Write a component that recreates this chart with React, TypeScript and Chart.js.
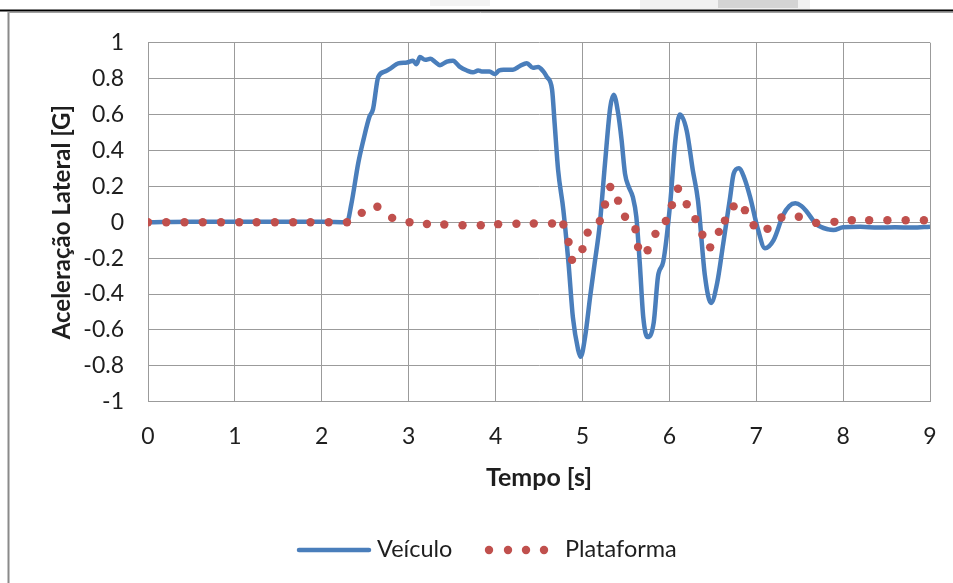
import React, { useEffect, useRef } from 'react';
import { Chart, registerables } from 'chart.js';

Chart.register(...registerables);

// ---- data ----
const vehicleTime = [
  0, 0.5, 1.0, 1.5, 2.0, 2.29, 2.34, 2.42, 2.48, 2.55, 2.59, 2.65, 2.73, 2.8, 2.88, 2.98, 3.05, 3.09, 3.13, 3.19,
  3.25, 3.3, 3.36, 3.44, 3.51, 3.59, 3.67, 3.74, 3.8, 3.84, 3.93, 3.99, 4.04, 4.09, 4.2, 4.28, 4.36, 4.43, 4.49,
  4.55, 4.59, 4.65, 4.68, 4.72, 4.78, 4.84, 4.89, 4.95, 4.98, 5.03, 5.09, 5.14, 5.2, 5.26, 5.32, 5.36, 5.41, 5.45,
  5.49, 5.53, 5.58, 5.62, 5.66, 5.7, 5.75, 5.82, 5.87, 5.93, 6.01, 6.07, 6.12, 6.2, 6.27, 6.33, 6.41, 6.48, 6.55,
  6.62, 6.7, 6.74, 6.8, 6.86, 6.93, 7.02, 7.1, 7.2, 7.31, 7.38, 7.45, 7.52, 7.58, 7.69, 7.83, 7.89, 8.0, 8.2, 8.4,
  8.6, 8.8, 9.0,
];
const vehicleAccel = [
  0, 0.003, 0.003, 0.002, 0.003, 0.0, 0.1, 0.33, 0.46, 0.59, 0.63, 0.81, 0.84, 0.86, 0.885, 0.89, 0.9, 0.88, 0.92, 0.905,
  0.91, 0.895, 0.875, 0.895, 0.9, 0.865, 0.845, 0.835, 0.845, 0.84, 0.84, 0.825, 0.845, 0.85, 0.85, 0.87, 0.885, 0.86, 0.865,
  0.84, 0.81, 0.74, 0.55, 0.29, 0.07, -0.23, -0.53, -0.71, -0.75, -0.64, -0.41, -0.23, -0.01, 0.33, 0.64, 0.71, 0.61, 0.46,
  0.27, 0.2, 0.14, 0.03, -0.23, -0.53, -0.64, -0.56, -0.3, -0.22, 0.105, 0.46, 0.6, 0.51, 0.29, 0.12, -0.3, -0.45, -0.34,
  -0.12, 0.14, 0.27, 0.3, 0.25, 0.14, -0.04, -0.145, -0.1, 0.04, 0.09, 0.105, 0.09, 0.06, -0.01, -0.04, -0.043, -0.028, -0.025, -0.03,
  -0.028, -0.03, -0.025,
];

const platformTime = [
  0, 0.21, 0.42, 0.63, 0.84, 1.05, 1.25, 1.46, 1.67, 1.87, 2.08, 2.29, 2.46, 2.64, 2.81, 3.01, 3.21, 3.41, 3.62, 3.83,
  4.03, 4.24, 4.44, 4.65, 4.78, 4.84, 4.88, 5.0, 5.06, 5.2, 5.26, 5.32, 5.41, 5.49, 5.61, 5.64, 5.75, 5.84, 5.96, 6.03,
  6.1, 6.2, 6.3, 6.38, 6.47, 6.57, 6.64, 6.74, 6.87, 6.97, 7.13, 7.29, 7.49, 7.69, 7.9, 8.1, 8.3, 8.51, 8.72, 8.93,
];
const platformAccel = [
  0, 0, 0, 0, 0, 0, 0, 0, 0, 0, 0, 0, 0.052, 0.086, 0.024, 0.0, -0.01, -0.013, -0.017, -0.017,
  -0.011, -0.009, -0.007, -0.007, -0.013, -0.11, -0.21, -0.15, -0.058, 0.007, 0.099, 0.196, 0.12, 0.03, -0.039, -0.138, -0.156, -0.065, 0.007, 0.095,
  0.186, 0.1, 0.017, -0.07, -0.14, -0.054, 0.009, 0.088, 0.067, -0.017, -0.037, 0.026, 0.03, -0.004, 0.002, 0.011, 0.011, 0.011, 0.011, 0.011,
];

const seriesNames = ['Veículo', 'Plataforma'];
const xAxisTitle = 'Tempo [s]';
const yAxisTitle = 'Aceleração Lateral [G]';
const xMin = 0, xMax = 9, xStep = 1;
const yMin = -1, yMax = 1, yStep = 0.2;

const BLUE = '#4A7EBB';
const RED = '#C0504D';
const GRID = '#9b9b9b';
const TEXT = '#1e1e1e';
const FONT = 'Lato, "Open Sans", sans-serif';

export default function App() {
  const ref = useRef<HTMLCanvasElement | null>(null);

  useEffect(() => {
    if (!ref.current) return;
    document.documentElement.style.overflow = 'hidden';
    document.body.style.overflow = 'hidden';

    const framePlugin = {
      id: 'frame',
      beforeDraw(chart: any) {
        const ctx = chart.ctx;
        ctx.save();
        ctx.fillStyle = '#fff';
        ctx.fillRect(0, 0, chart.width, chart.height);
        // faint scan remnants above the frame
        ctx.fillStyle = '#f1f1f1';
        ctx.fillRect(640, 0, 170, 9);
        ctx.fillStyle = '#d4d4d4';
        ctx.fillRect(718, 0, 80, 8);
        ctx.fillStyle = '#f4f4f4';
        ctx.fillRect(430, 0, 60, 6);
        ctx.strokeStyle = '#000';
        ctx.lineWidth = 2;
        ctx.beginPath();
        ctx.moveTo(0, 10.5);
        ctx.lineTo(chart.width, 10.5);
        ctx.stroke();
        ctx.strokeStyle = '#8a8a8a';
        ctx.lineWidth = 2;
        ctx.beginPath();
        ctx.moveTo(8.5, 12);
        ctx.lineTo(8.5, chart.height);
        ctx.stroke();
        ctx.lineWidth = 1;
        ctx.strokeStyle = '#a0a0a0';
        ctx.beginPath();
        ctx.moveTo(8, 12.5);
        ctx.lineTo(chart.width, 12.5);
        ctx.stroke();
        ctx.restore();
      },
      afterDraw(chart: any) {
        const ctx = chart.ctx;
        ctx.save();
        const y = 550;
        ctx.strokeStyle = BLUE;
        ctx.lineWidth = 4.5;
        ctx.lineCap = 'round';
        ctx.beginPath();
        ctx.moveTo(299, y);
        ctx.lineTo(369, y);
        ctx.stroke();
        ctx.fillStyle = TEXT;
        ctx.font = `23.5px ${FONT}`;
        ctx.textBaseline = 'middle';
        ctx.textAlign = 'left';
        ctx.fillText(seriesNames[0], 377, y - 1);
        ctx.fillStyle = RED;
        [489, 508, 526, 544].forEach((x) => {
          ctx.beginPath();
          ctx.arc(x, y, 4.2, 0, Math.PI * 2);
          ctx.fill();
        });
        ctx.fillStyle = TEXT;
        ctx.fillText(seriesNames[1], 565, y - 1);
        ctx.restore();
      },
    };

    const fmt = (v: any) => String(Math.round(Number(v) * 10) / 10);

    const chart = new Chart(ref.current, {
      type: 'line',
      data: {
        datasets: [
          {
            label: seriesNames[1],
            data: platformTime.map((t, i) => ({ x: t, y: platformAccel[i] })),
            showLine: false,
            pointRadius: 4.2,
            pointBackgroundColor: RED,
            pointBorderWidth: 0,
            borderColor: RED,
            backgroundColor: RED,
            order: 0,
          },
          {
            label: seriesNames[0],
            data: vehicleTime.map((t, i) => ({ x: t, y: vehicleAccel[i] })),
            borderColor: BLUE,
            borderWidth: 4.5,
            pointRadius: 0,
            cubicInterpolationMode: 'monotone',
            fill: false,
            order: 1,
          },
        ],
      },
      options: {
        responsive: false,
        animation: false,
        devicePixelRatio: 1,
        layout: { padding: { left: 0, top: 42.7, right: 23, bottom: 81.3 } },
        plugins: { legend: { display: false }, tooltip: { enabled: false } },
        scales: {
          x: {
            type: 'linear',
            min: xMin,
            max: xMax,
            afterFit: (s: any) => { s.height = 100; },
            ticks: { stepSize: xStep, color: TEXT, font: { family: FONT, size: 23 }, padding: 0, maxRotation: 0, callback: fmt },
            grid: { color: GRID, lineWidth: 1, drawTicks: true, tickLength: 21, tickColor: 'rgba(0,0,0,0)' },
            border: { color: GRID },
            title: {
              display: true,
              text: xAxisTitle,
              color: TEXT,
              font: { family: FONT, size: 25, weight: 'bold' },
              padding: { top: 0, bottom: 8.7 },
            },
          },
          y: {
            type: 'linear',
            min: yMin,
            max: yMax,
            afterFit: (s: any) => { s.width = 148; },
            ticks: { stepSize: yStep, color: TEXT, font: { family: FONT, size: 23 }, padding: 24, callback: fmt },
            grid: { color: GRID, lineWidth: 1, drawTicks: false },
            border: { color: GRID },
            title: {
              display: true,
              text: yAxisTitle,
              color: TEXT,
              font: { family: FONT, size: 24, weight: 'bold' },
              padding: { top: 47.6, bottom: 0 },
            },
          },
        },
      },
      plugins: [framePlugin],
    } as any);

    return () => chart.destroy();
  }, []);

  return (
    <div style={{ position: 'fixed', left: 0, top: 0, width: 953, height: 583, background: '#fff', overflow: 'hidden' }}>
      <canvas ref={ref} width={953} height={583} style={{ width: 953, height: 583, display: 'block' }} />
    </div>
  );
}
